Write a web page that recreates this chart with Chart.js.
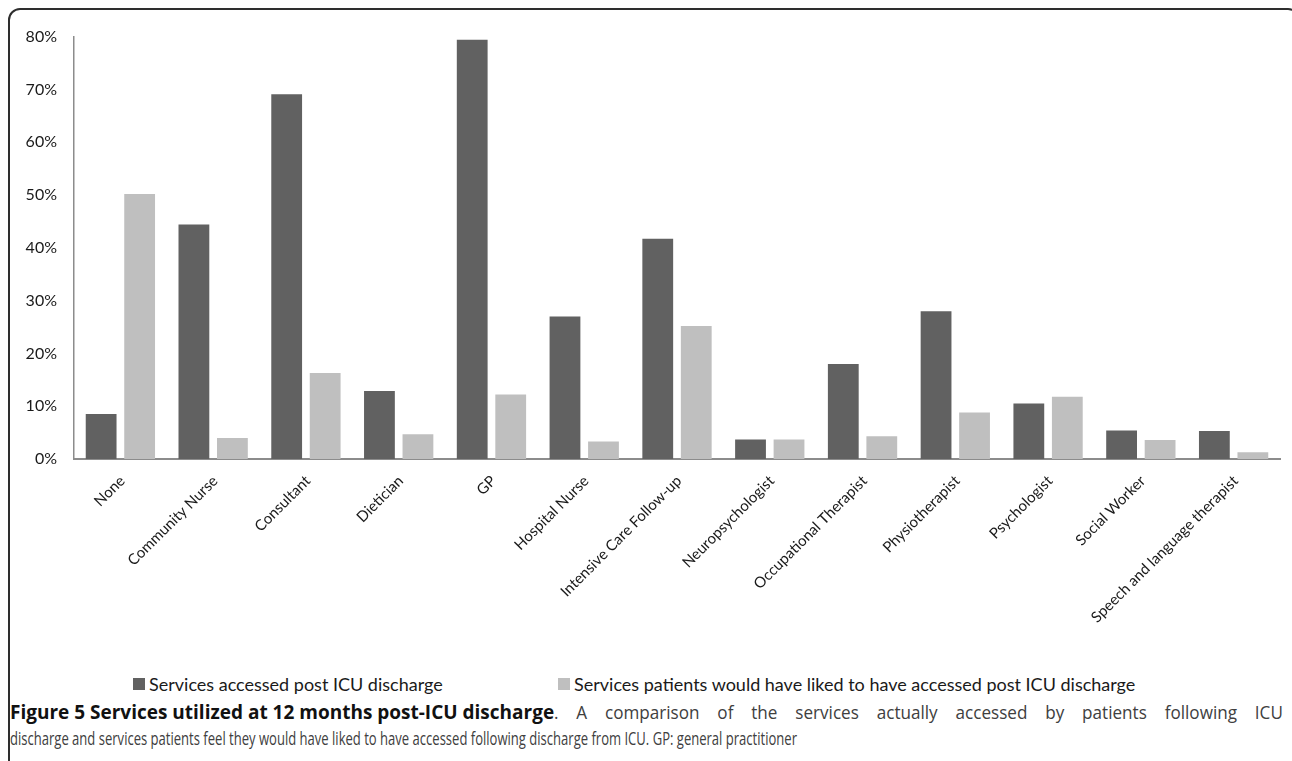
<!DOCTYPE html>
<html>
<head>
<meta charset="utf-8">
<script src="https://cdn.jsdelivr.net/npm/chart.js@4.4.1/dist/chart.umd.min.js"></script>
<style>
  html, body { margin: 0; padding: 0; background: #fff; width: 1292px; height: 761px; overflow: hidden; }
  #frame { position: absolute; left: 8px; top: 8px; width: 1292px; height: 800px; border: 2px solid #2e2e2e; border-radius: 12px; box-sizing: border-box; }
  #wrap { position: absolute; left: 10px; top: 10px; width: 1282px; height: 650px; }
  #legend { position: absolute; left: 0; top: 672px; width: 1292px; height: 24px; font-family: Lato, sans-serif; font-size: 18px; color: #1a1a1a; }
  #legend .item { position: absolute; top: 0; height: 24px; display: flex; align-items: center; white-space: nowrap; }
  #legend .sw { width: 12px; height: 12px; margin-right: 4px; }
  .cap { position: absolute; font-family: 'Open Sans', sans-serif; font-size: 18px; line-height: 26px; color: #404040; white-space: nowrap; transform-origin: 0 0; }
  #capB { left: 10px; top: 699px; font-weight: bold; color: #111; font-size: 19px; }
  #capR { top: 699px; white-space: normal; text-align: justify; text-align-last: justify; }
  #cap2 { left: 10px; top: 725px; }
</style>
</head>
<body>
<div id="frame"></div>
<div id="wrap"><canvas id="chart" width="1282" height="650"></canvas></div>
<div id="legend"></div>
<div class="cap" id="capB">Figure 5 Services utilized at 12 months post-ICU discharge</div>
<div class="cap" id="capR">. A comparison of the services actually accessed by patients following ICU</div>
<div class="cap" id="cap2">discharge and services patients feel they would have liked to have accessed following discharge from ICU. GP: general practitioner</div>
<script>
// Service categories along the x axis
const categories = [
  'None', 'Community Nurse', 'Consultant', 'Dietician', 'GP', 'Hospital Nurse',
  'Intensive Care Follow-up', 'Neuropsychologist', 'Occupational Therapist',
  'Physiotherapist', 'Psychologist', 'Social Worker', 'Speech and language therapist'
];

// Percentage of patients who accessed each service after ICU discharge
const accessed = [8.5, 44.4, 69.1, 12.9, 79.4, 27.0, 41.7, 3.7, 18.0, 28.0, 10.5, 5.4, 5.3];

// Percentage of patients who would have liked to access each service
const wished = [50.2, 4.0, 16.3, 4.7, 12.2, 3.3, 25.2, 3.7, 4.3, 8.8, 11.8, 3.6, 1.3];

const seriesNames = [
  'Services accessed post ICU discharge',
  'Services patients would have liked to have accessed post ICU discharge'
];

// Y axis: 0% to 80% in steps of 10%
const yMin = 0;
const yMax = 80;
const yStep = 10;

const colors = ['#616161', '#bfbfbf'];

// Caption: bold title at natural width, body text condensed; first line justified
function layoutCaption() {
  const right = 1283;
  const bold = document.getElementById('capB');
  const rest = document.getElementById('capR');
  const line2 = document.getElementById('cap2');
  const s2 = 787 / line2.getBoundingClientRect().width;
  line2.style.transform = 'scaleX(' + s2 + ')';
  const s1 = 0.95;
  const left = 10 + bold.getBoundingClientRect().width;
  rest.style.left = left + 'px';
  rest.style.width = ((right - left) / s1) + 'px';
  rest.style.transform = 'scaleX(' + s1 + ')';
}

function buildLegend(chart) {
  const box = document.getElementById('legend');
  const lefts = [133, 558];
  const items = chart.options.plugins.legend.labels.generateLabels(chart);
  items.forEach((it, i) => {
    const d = document.createElement('div');
    d.className = 'item';
    d.style.left = lefts[i] + 'px';
    const sw = document.createElement('span');
    sw.className = 'sw';
    sw.style.background = it.fillStyle;
    const t = document.createElement('span');
    t.textContent = it.text;
    d.appendChild(sw);
    d.appendChild(t);
    box.appendChild(d);
  });
}

function draw() {
  layoutCaption();
  const chart = new Chart(document.getElementById('chart'), {
    type: 'bar',
    data: {
      labels: categories,
      datasets: [
        { label: seriesNames[0], data: accessed, backgroundColor: colors[0], barPercentage: 0.8, categoryPercentage: 0.83 },
        { label: seriesNames[1], data: wished, backgroundColor: colors[1], barPercentage: 0.8, categoryPercentage: 0.83 }
      ]
    },
    options: {
      responsive: false,
      maintainAspectRatio: false,
      animation: false,
      layout: { padding: { top: 23, right: 12, left: 0, bottom: 0 } },
      plugins: {
        legend: { display: false },
        tooltip: { enabled: false }
      },
      scales: {
        x: {
          grid: { display: false, drawTicks: false },
          border: { color: '#8c8c8c', width: 2 },
          ticks: {
            minRotation: 45, maxRotation: 45, autoSkip: false,
            color: '#1a1a1a', padding: 13, labelOffset: 2,
            font: { family: 'Lato', size: 15 }
          },
          afterFit(scale) { scale.height = 201; }
        },
        y: {
          min: yMin, max: yMax,
          grid: { display: false, drawTicks: false },
          border: { color: '#8c8c8c', width: 1.5 },
          ticks: {
            stepSize: yStep,
            callback: v => v + '%',
            color: '#1a1a1a', padding: 17,
            font: { family: 'Lato', size: 16 }
          },
          afterFit(scale) { scale.width = 64; }
        }
      }
    }
  });
  buildLegend(chart);
}

Promise.all([
  document.fonts.load('15px Lato'),
  document.fonts.load('18px "Open Sans"'),
  document.fonts.load('bold 19px "Open Sans"')
]).then(draw, draw);
</script>
</body>
</html>
